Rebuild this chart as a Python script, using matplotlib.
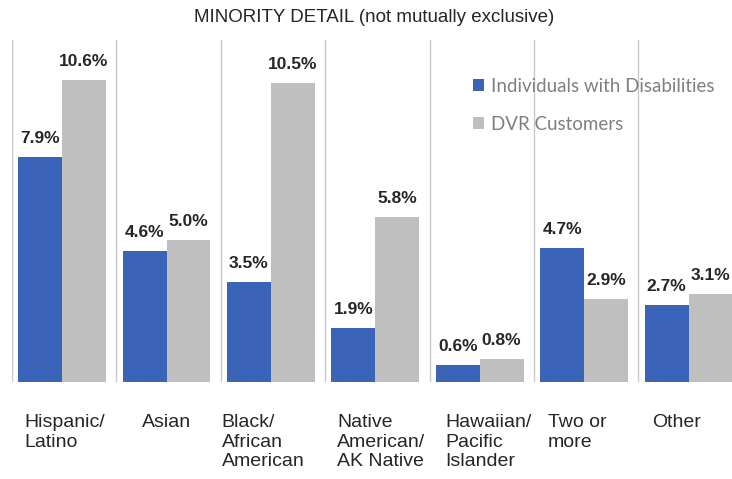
import matplotlib
matplotlib.use("Agg")
import matplotlib.pyplot as plt
import matplotlib.transforms as mtransforms
import numpy as np

# ---- Data (% of group) ----
categories = ["Hispanic/\nLatino", "Asian", "Black/\nAfrican\nAmerican",
              "Native\nAmerican/\nAK Native", "Hawaiian/\nPacific\nIslander",
              "Two or\nmore", "Other"]
disabilities = [7.9, 4.6, 3.5, 1.9, 0.6, 4.7, 2.7]
dvr_customers = [10.6, 5.0, 10.5, 5.8, 0.8, 2.9, 3.1]
series_names = ["Individuals with Disabilities", "DVR Customers"]

BLUE = "#3B64B8"
GRAY = "#BFBFBF"
SANS = ["Liberation Sans", "DejaVu Sans"]

W, H = 732, 479
fig = plt.figure(figsize=(W / 100, H / 100), dpi=100)
# plot area runs a little past the right edge, so the last group is cut
left, top, bottom, cat_w = 12, 40, 382, 104.4
ax = fig.add_axes([left / W, 1 - bottom / H, 7 * cat_w / W, (bottom - top) / H])

x = np.arange(len(categories))
bw = 0.42
b1 = ax.bar(x - 0.23, disabilities, bw, color=BLUE, label=series_names[0])
b2 = ax.bar(x + 0.19, dvr_customers, bw, color=GRAY, label=series_names[1])

for bars, vals in ((b1, disabilities), (b2, dvr_customers)):
    for r, v in zip(bars, vals):
        ax.annotate(f"{v:.1f}%", (r.get_x() + r.get_width() / 2, v),
                    xytext=(0, 10), textcoords="offset points",
                    ha="center", va="baseline", fontsize=12.5,
                    fontweight="bold", family=SANS, color="#262626")

ax.set_xlim(-0.5, len(categories) - 0.5)
ax.set_ylim(0, 12)
ax.set_yticks([])

# light separators between the groups
for b in np.arange(-0.5, len(categories), 1.0):
    ax.axvline(b, color="#C8C8C8", lw=1.0, zorder=0)

ax.set_xticks(x)
ax.set_xticklabels(categories, family=SANS, fontsize=14, color="#262626",
                   linespacing=1.2, multialignment="left", va="top")
ax.tick_params(axis="x", length=0, pad=23)
# the wrapped labels sit a bit off-centre in their groups
nudges = [0, -2, -10, 4, 7, -9, -14]
for lab, dx in zip(ax.get_xticklabels(), nudges):
    lab.set_transform(lab.get_transform() +
                      mtransforms.ScaledTranslation(dx / 100, 0, fig.dpi_scale_trans))
for s in ax.spines.values():
    s.set_visible(False)

fig.text(374 / W, 1 - 18 / H, "MINORITY DETAIL (not mutually exclusive)",
         ha="center", va="center", fontsize=13.5, family=SANS, color="#262626")

leg = fig.legend(handles=[b1, b2], loc="upper left",
                 bbox_to_anchor=(473 / W, 1 - 78 / H), frameon=False,
                 prop={"family": ["Lato", "DejaVu Sans"], "size": 13.5},
                 labelcolor="#808080", handlelength=0.6, handleheight=0.6,
                 handletextpad=0.35, labelspacing=1.1, borderpad=0,
                 borderaxespad=0)

fig.savefig("out.png", dpi=100)
